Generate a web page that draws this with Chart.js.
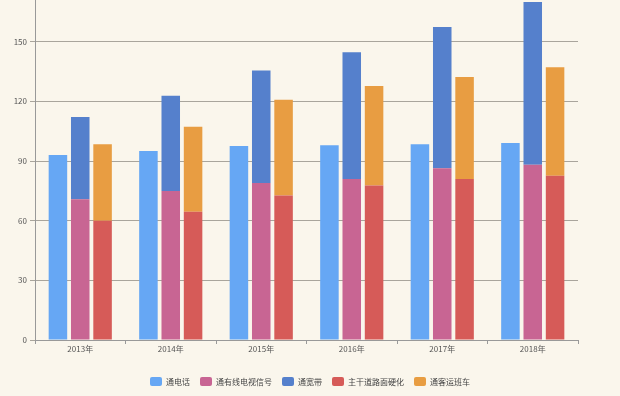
<!DOCTYPE html>
<html><head><meta charset="utf-8">
<script src="https://cdn.jsdelivr.net/npm/chart.js@4/dist/chart.umd.min.js"></script>
<style>html,body{margin:0;padding:0;background:#faf6ec;}#wrap{width:620px;height:396px;}</style>
</head><body><div id="wrap"><canvas id="c" width="620" height="396"></canvas></div>
<script>
const categories = ['2013年','2014年','2015年','2016年','2017年','2018年'];
const phone = [93, 95, 97.6, 98, 98.5, 99.1];
const cableTV = [70.8, 75, 79, 81, 86.4, 88.1];
const broadband = [41.4, 47.9, 56.5, 63.7, 71, 81.9];
const roads = [60, 64.5, 72.7, 77.7, 81, 82.6];
const bus = [38.5, 42.8, 48.1, 50.1, 51.3, 54.6];
const yTicks = [0, 30, 60, 90, 120, 150];
const seriesNames = ['通电话','通有线电视信号','通宽带','主干道路面硬化','通客运班车'];

const FONT = '"Noto Sans CJK SC", "Noto Sans", sans-serif';
const centerLegend = {
  id: 'centerLegend',
  afterLayout(chart) {
    if (chart.legend) { chart.legend.left = 0; chart.legend.right = chart.width; }
  }
};
new Chart(document.getElementById('c'), {
  type: 'bar',
  data: {
    labels: categories,
    datasets: [
      {label: seriesNames[0], data: phone, backgroundColor: '#66a7f4', stack: 's1'},
      {label: seriesNames[1], data: cableTV, backgroundColor: '#c86593', stack: 's2'},
      {label: seriesNames[2], data: broadband, backgroundColor: '#5580cc', stack: 's2'},
      {label: seriesNames[3], data: roads, backgroundColor: '#d65b58', stack: 's3'},
      {label: seriesNames[4], data: bus, backgroundColor: '#e89d42', stack: 's3'}
    ]
  },
  options: {
    responsive: false,
    animation: false,
    layout: {padding: {top: 0, right: 42, bottom: 0, left: 0}},
    datasets: {bar: {categoryPercentage: 0.74, barPercentage: 0.83}},
    scales: {
      x: {
        stacked: true,
        grid: {display: true, offset: true, drawOnChartArea: false, drawTicks: true, tickLength: 4, color: '#999'},
        border: {display: true, color: '#999'},
        ticks: {font: {family: FONT, size: 8}, color: '#555', padding: 0},
        afterFit(s) { s.height = 27; }
      },
      y: {
        stacked: true,
        min: 0, max: 171,
        grid: {color: '#a9a59c', tickLength: 5},
        border: {display: true, color: '#999'},
        ticks: {font: {family: FONT, size: 8}, color: '#555', padding: 3, stepSize: 30},
        afterBuildTicks(s) { s.ticks = yTicks.map(v => ({value: v})); },
        afterFit(s) { s.width = 35; s.paddingTop = 0; s.paddingBottom = 0; }
      }
    },
    plugins: {
      legend: {
        position: 'bottom',
        labels: {font: {family: FONT, size: 8}, color: '#444', boxWidth: 12, boxHeight: 9, padding: 10, useBorderRadius: true, borderRadius: 2}
      },
      tooltip: {enabled: false}
    }
  },
  plugins: [centerLegend]
});
</script>
</body></html>
